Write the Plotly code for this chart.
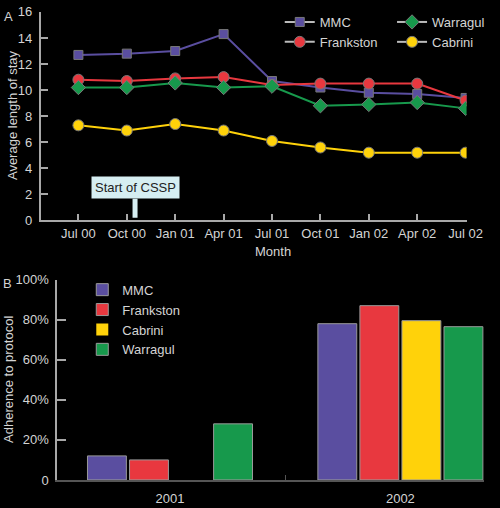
import plotly.graph_objects as go

# panel A: average length of stay by quarter
months = ["Jul 00", "Oct 00", "Jan 01", "Apr 01", "Jul 01", "Oct 01", "Jan 02", "Apr 02", "Jul 02"]
mmc_los = [12.7, 12.8, 13.0, 14.3, 10.7, 10.2, 9.8, 9.7, 9.4]
frankston_los = [10.8, 10.7, 10.9, 11.0, 10.4, 10.5, 10.5, 10.5, 9.2]
warragul_los = [10.2, 10.2, 10.55, 10.2, 10.3, 8.8, 8.9, 9.05, 8.6]
cabrini_los = [7.3, 6.9, 7.4, 6.9, 6.1, 5.6, 5.2, 5.2, 5.2]

# panel B: adherence to protocol (%)
years = ["2001", "2002"]
mmc_adh = [12, 78]
frankston_adh = [10, 87]
cabrini_adh = [0, 79.5]
warragul_adh = [28, 76.5]

hospitals = ["MMC", "Frankston", "Cabrini", "Warragul"]
colors = {"MMC": "#5a4ea0", "Frankston": "#e8383f", "Cabrini": "#ffd20a", "Warragul": "#17994c"}
symbols = {"MMC": "square", "Frankston": "circle", "Cabrini": "circle", "Warragul": "diamond"}
sizes = {"MMC": 9, "Frankston": 11, "Cabrini": 11, "Warragul": 11}
los = {"MMC": mmc_los, "Frankston": frankston_los, "Cabrini": cabrini_los, "Warragul": warragul_los}
adh = {"MMC": mmc_adh, "Frankston": frankston_adh, "Cabrini": cabrini_adh, "Warragul": warragul_adh}
legend_of = {"MMC": "legend", "Frankston": "legend", "Warragul": "legend2", "Cabrini": "legend2"}

FONT = "Liberation Sans, Arial, sans-serif"
TXT = "#d4d4d4"
AX = "#a8a8a8"

fig = go.Figure()

for h in ["MMC", "Frankston", "Warragul", "Cabrini"]:
    fig.add_trace(go.Scatter(
        x=months, y=los[h], mode="lines+markers", showlegend=False,
        line=dict(color=colors[h], width=2),
        marker=dict(symbol=symbols[h], size=sizes[h], color=colors[h],
                    line=dict(color="#777777", width=1)),
        xaxis="x", yaxis="y"))
    # legend entry: grey line, coloured marker
    fig.add_trace(go.Scatter(
        x=[None], y=[None], mode="lines+markers", name=h, legend=legend_of[h],
        line=dict(color="#bbbbbb", width=2),
        marker=dict(symbol=symbols[h], size=sizes[h], color=colors[h],
                    line=dict(color="#777777", width=1)),
        xaxis="x", yaxis="y"))

for h in hospitals:
    # no outline on empty bars
    edge = [1 if v > 0 else 0 for v in adh[h]]
    fig.add_trace(go.Bar(
        x=years, y=adh[h], name=h, legend="legend3",
        marker=dict(color=colors[h], line=dict(color="#9a9a9a", width=edge)),
        xaxis="x2", yaxis="y2"))

fig.update_layout(
    width=500, height=508,
    margin=dict(l=0, r=0, t=0, b=0),
    paper_bgcolor="#000000", plot_bgcolor="#000000",
    font=dict(family=FONT, size=13, color=TXT),
    barmode="group", bargap=0.27, bargroupgap=0.075,
    xaxis=dict(domain=[0.084, 0.964], anchor="y", type="category",
               range=[-0.78, 8.02], showgrid=False, zeroline=False,
               showline=True, linecolor=AX, linewidth=1.5,
               ticks="inside", ticklen=7, tickcolor=AX, tickwidth=1.5,
               ticklabelstandoff=0, tickfont=dict(size=13, color=TXT)),
    yaxis=dict(domain=[0.567, 0.99], anchor="x", range=[0, 16],
               tickvals=[0, 2, 4, 6, 8, 10, 12, 14, 16],
               showgrid=False, zeroline=False,
               showline=True, linecolor=AX, linewidth=1.5,
               ticks="inside", ticklen=8, tickcolor=AX, tickwidth=1.5,
               ticklabelstandoff=4, tickfont=dict(size=13, color=TXT)),
    xaxis2=dict(domain=[0.118, 1.0], anchor="y2", type="category",
                range=[-0.49, 1.363], showgrid=False, zeroline=False,
                showline=True, linecolor="#555555", linewidth=1.5,
                ticks="inside", tickson="boundaries", ticklen=5, tickcolor="#555555",
                ticklabelstandoff=6, tickfont=dict(size=13, color=TXT)),
    yaxis2=dict(domain=[0.0407, 0.447], anchor="x2", range=[0, 100],
                tickvals=[0, 20, 40, 60, 80, 100],
                ticktext=["0", "20%", "40%", "60%", "80%", "100%"],
                showgrid=False, zeroline=False,
                showline=True, linecolor=AX, linewidth=1.5,
                ticks="inside", ticklen=9, tickcolor=AX, tickwidth=1.5,
                ticklabelstandoff=4, tickfont=dict(size=13, color=TXT)),
    legend=dict(x=0.578, y=1.0, xanchor="left", yanchor="top",
                bgcolor="rgba(0,0,0,0)", font=dict(size=13, color=TXT),
                tracegroupgap=0, itemclick=False),
    legend2=dict(x=0.81, y=1.0, xanchor="left", yanchor="top",
                 bgcolor="rgba(0,0,0,0)", font=dict(size=13, color=TXT),
                 tracegroupgap=0, itemclick=False),
    legend3=dict(x=0.17, y=0.457, xanchor="left", yanchor="top",
                 bgcolor="rgba(0,0,0,0)", font=dict(size=13, color=TXT),
                 tracegroupgap=0, itemclick=False),
)

def note(text, x, y, **kw):
    fig.add_annotation(text=text, x=x, y=y, xref="paper", yref="paper",
                       xanchor="center", yanchor="middle", showarrow=False,
                       font=dict(size=13, color=TXT), **kw)

note("A", 0.018, 0.98)
note("B", 0.016, 0.44)
note("Average length of stay", 0.026, 0.78, textangle=-90)
note("Adherence to protocol", 0.018, 0.245, textangle=-90)
note("Month", 0.565, 0.505)

fig.add_annotation(text="Start of CSSP", x=1.17, y=0.2, xref="x", yref="y",
                   ax=0, ay=-30, showarrow=True, arrowhead=0, arrowwidth=5,
                   arrowcolor="#d6eef2", bgcolor="#d6eef2", borderpad=3,
                   font=dict(size=13, color="#222222"))

fig.write_html("out.html", config={"displayModeBar": False},
               post_script="document.body.style.margin='0';")
